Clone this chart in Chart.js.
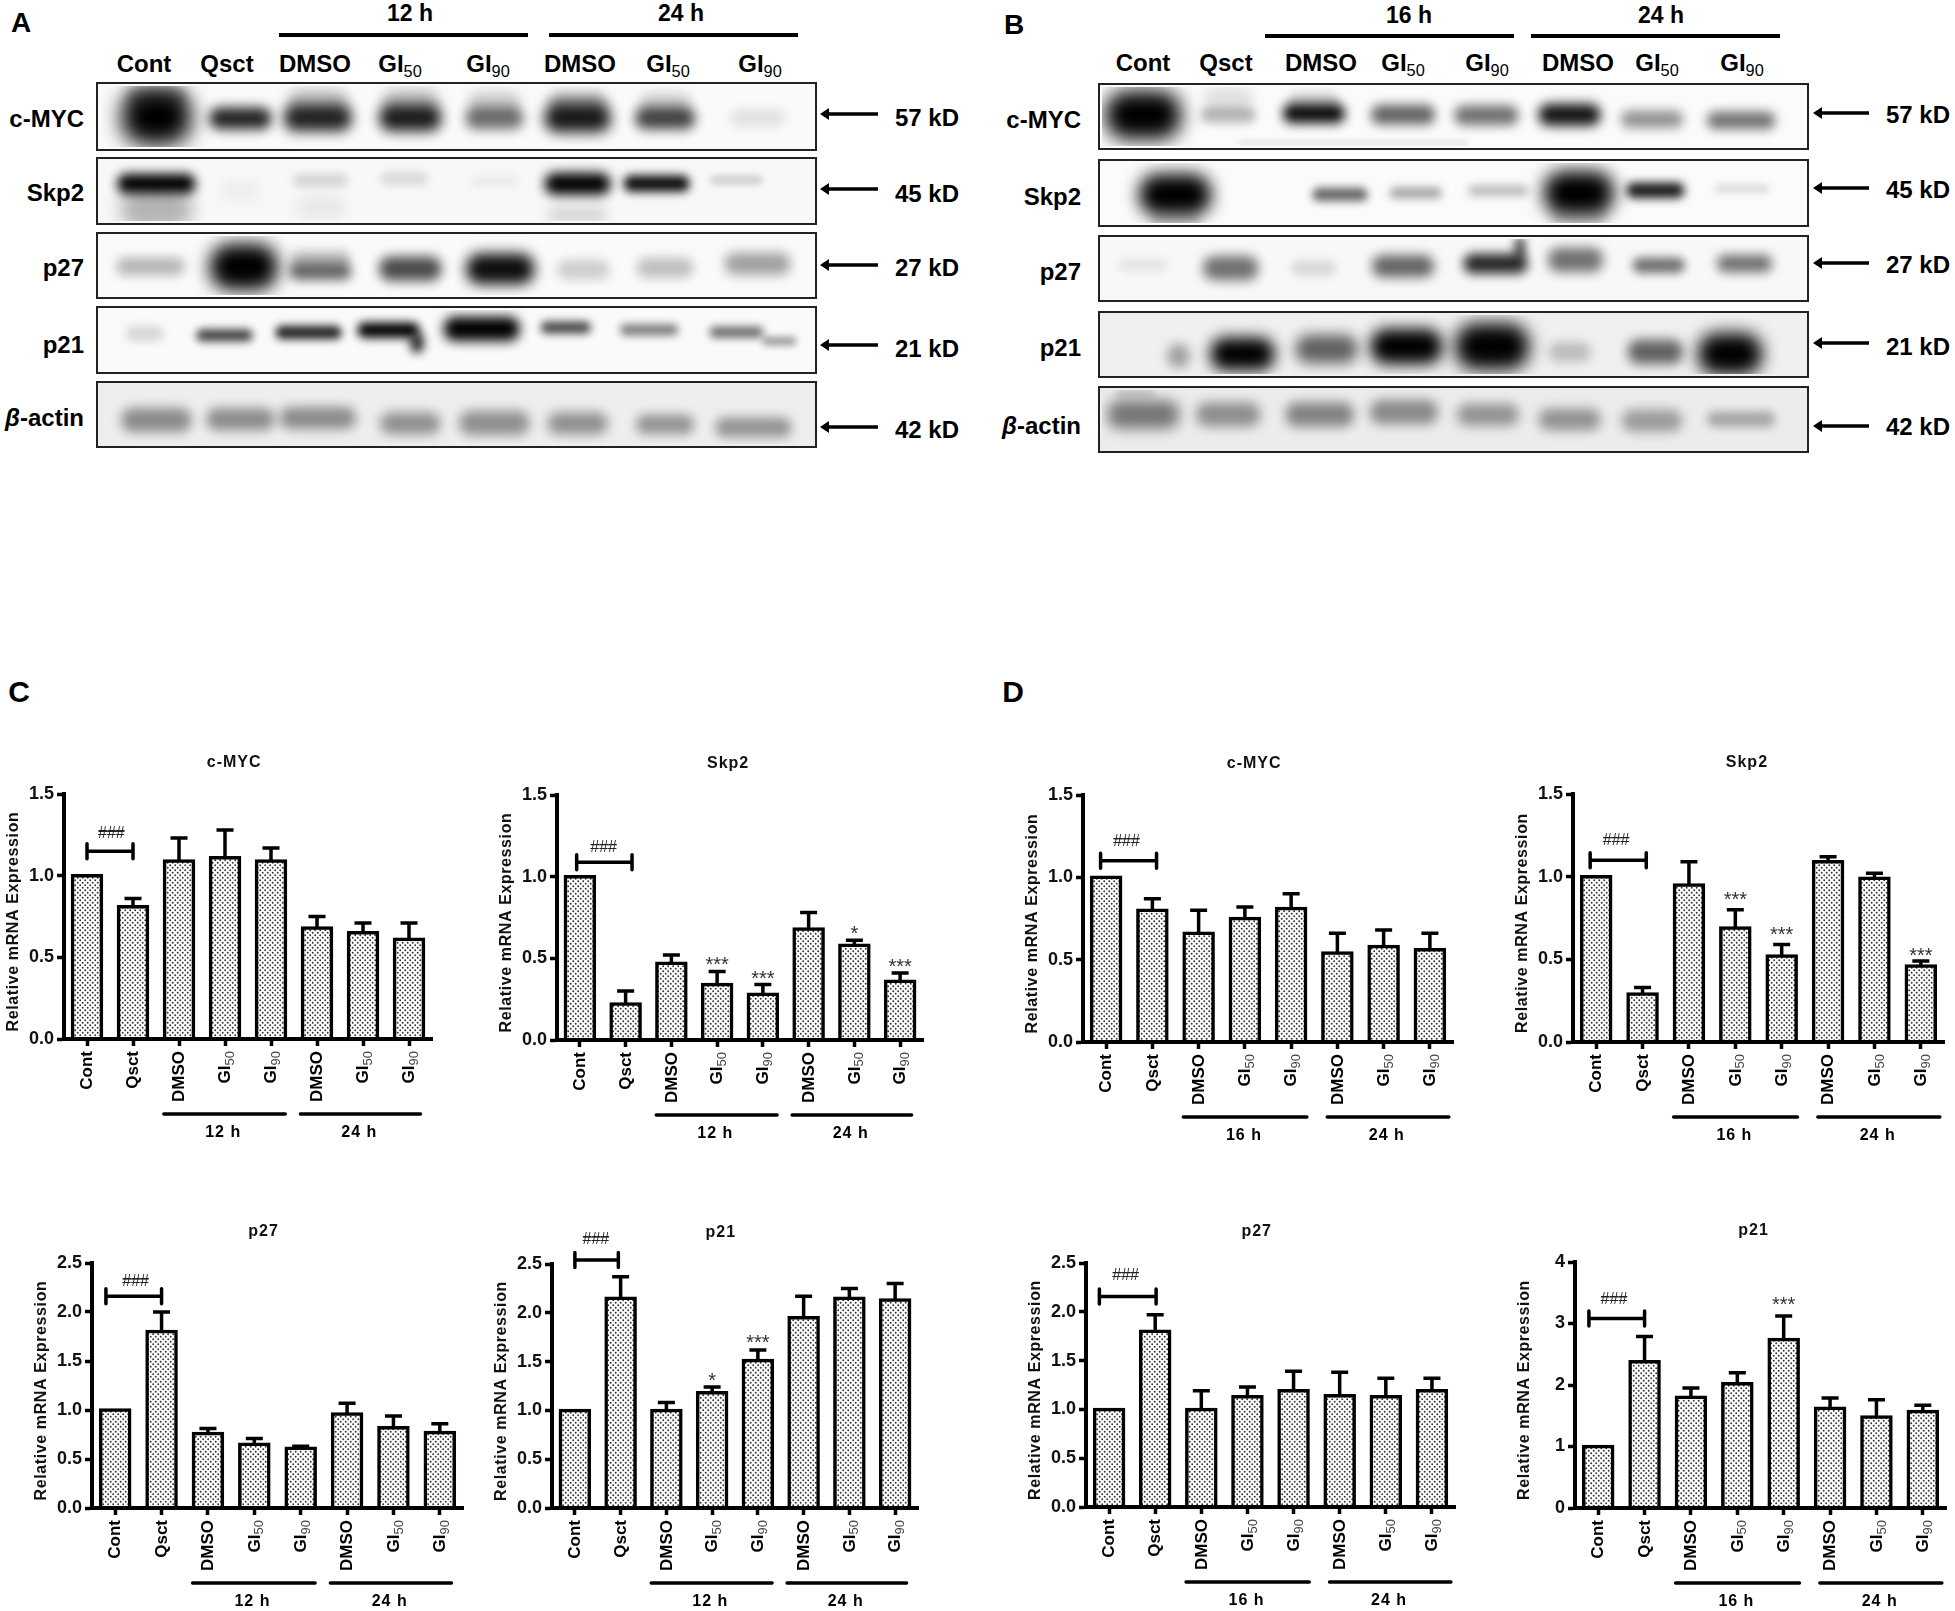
<!DOCTYPE html>
<html>
<head>
<meta charset="utf-8">
<title>Relative mRNA and protein expression</title>
<script src="https://cdn.jsdelivr.net/npm/chart.js@4"></script>
<style>
  html, body { margin: 0; padding: 0; background: #fff; }
  #page { position: relative; width: 1955px; height: 1611px; overflow: hidden; background: #fff; }
  #page canvas { position: absolute; }
  #page svg { position: absolute; left: 0; top: 0; }
  .txt { position: absolute; transform: translate(-50%, -50%); white-space: nowrap; color: #000;
         font-family: "Liberation Sans", Arial, sans-serif; font-weight: bold; }
  .txt.right { transform: translate(-100%, -50%); }
  .txt sub { font-size: 0.68em; font-weight: normal; line-height: 0; vertical-align: -0.3em; }
</style>
</head>
<body>
<div id="page"></div>
<script>
const categories = ['Cont', 'Qsct', 'DMSO', 'GI50', 'GI90', 'DMSO', 'GI50', 'GI90'];
const blotLanes = ['Cont', 'Qsct', 'DMSO', 'GI<sub>50</sub>', 'GI<sub>90</sub>', 'DMSO', 'GI<sub>50</sub>', 'GI<sub>90</sub>'];
const blotRowNames = ['c-MYC', 'Skp2', 'p27', 'p21', '<i>β</i>-actin'];
const blotSizes = ['57 kD', '45 kD', '27 kD', '21 kD', '42 kD'];
const axisDecimal = ['0.0', '0.5', '1.0', '1.5', '2.0', '2.5'];
const axisWhole = ['0', '1', '2', '3', '4'];

// bar heights and the top of each error bar
const mycC = [1.0, 0.81, 1.09, 1.11, 1.09, 0.68, 0.65, 0.61];
const mycCTop = [null, 0.86, 1.23, 1.28, 1.17, 0.75, 0.71, 0.71];
const skpC = [1.0, 0.22, 0.47, 0.34, 0.28, 0.68, 0.58, 0.36];
const skpCTop = [null, 0.30, 0.52, 0.42, 0.34, 0.78, 0.61, 0.41];
const p27C = [1.0, 1.80, 0.76, 0.65, 0.61, 0.96, 0.82, 0.77];
const p27CTop = [null, 2.0, 0.81, 0.71, 0.63, 1.07, 0.94, 0.86];
const p21C = [1.0, 2.15, 1.0, 1.18, 1.51, 1.95, 2.15, 2.13];
const p21CTop = [null, 2.37, 1.08, 1.24, 1.62, 2.17, 2.25, 2.30];
const mycD = [1.0, 0.80, 0.66, 0.75, 0.81, 0.54, 0.58, 0.56];
const mycDTop = [null, 0.87, 0.80, 0.82, 0.90, 0.66, 0.68, 0.66];
const skpD = [1.0, 0.29, 0.95, 0.69, 0.52, 1.09, 0.99, 0.46];
const skpDTop = [null, 0.33, 1.09, 0.80, 0.59, 1.12, 1.02, 0.49];
const p27D = [1.0, 1.80, 1.0, 1.13, 1.19, 1.14, 1.13, 1.19];
const p27DTop = [null, 1.97, 1.19, 1.23, 1.39, 1.38, 1.32, 1.32];
const p21D = [1.0, 2.38, 1.80, 2.02, 2.74, 1.62, 1.48, 1.57];
const p21DTop = [null, 2.79, 1.95, 2.20, 3.12, 1.79, 1.76, 1.67];

// significance marks: [category, value, text]
const starsSkpC = [[3, 0.49, '***'], [4, 0.404, '***'], [6, 0.68, '*'], [7, 0.475, '***']];
const starsP21C = [[3, 1.35, '*'], [4, 1.74, '***']];
const starsSkpD = [[3, 0.889, '***'], [4, 0.677, '***'], [7, 0.55, '***']];
const starsP21D = [[4, 3.39, '***']];

// blot bands: [lane, depth in the strip 0-1, darkness, spread x, spread y]
const blotA = [
  [[0, .52, 1, 70, 50], [0, .2, .35, 60, 20], [1, .53, .85, 62, 20], [1.92, .53, .85, 68, 24], [1.92, .28, .25, 60, 24],
   [3.02, .53, .88, 62, 24], [3.02, .28, .25, 56, 24], [4.02, .53, .55, 58, 20], [4.02, .3, .18, 52, 22],
   [5.01, .53, .9, 66, 26], [5.01, .28, .3, 58, 20], [6.05, .53, .72, 60, 20], [6.05, .3, .18, 52, 20], [7.15, .53, .1, 55, 16]],
  [[0, .38, 1, 78, 18], [0, .8, .28, 72, 36], [1, .5, .04, 40, 20], [1.95, .33, .14, 55, 12], [1.95, .78, .06, 50, 24],
   [2.95, .3, .12, 48, 12], [4.02, .34, .06, 48, 10], [5.01, .38, 1, 66, 20], [5.01, .9, .12, 60, 16], [5.95, .38, .95, 66, 15], [6.9, .32, .18, 52, 8]],
  [[-.07, .52, .28, 68, 16], [1.04, .53, 1, 68, 42], [1.95, .6, .6, 62, 16], [1.95, .38, .22, 60, 14], [3.02, .56, .7, 62, 22],
   [4.09, .56, .95, 68, 28], [5.08, .57, .18, 52, 18], [6.05, .54, .24, 56, 18], [7.15, .47, .36, 66, 20]],
  [[-.14, .4, .14, 38, 14], [.81, .43, .75, 56, 11], [1.81, .38, .88, 66, 12], [2.76, .34, 1, 62, 14], [3.1, .55, .8, 14, 18],
   [3.87, .32, 1, 76, 22], [4.87, .3, .72, 50, 11], [5.86, .33, .52, 58, 10], [6.9, .37, .58, 54, 10], [7.41, .52, .38, 34, 8]],
  [[0, .6, .42, 70, 22], [1, .58, .42, 68, 20], [1.92, .56, .42, 76, 20], [3.02, .65, .4, 60, 20], [4.02, .65, .4, 70, 22],
   [5.01, .65, .4, 60, 20], [6.05, .67, .38, 58, 18], [7.1, .72, .38, 76, 18]]
];
const blotB = [
  [[0, .48, 1, 76, 44], [1.01, .48, .28, 55, 14], [1.01, .2, .1, 50, 22], [2.03, .45, .95, 62, 18], [2.03, .22, .15, 50, 14],
   [3.09, .47, .6, 64, 18], [4.08, .48, .55, 64, 18], [5.07, .47, .92, 62, 20], [6.05, .55, .42, 62, 16], [7.11, .57, .55, 68, 16], [2.5, .95, .12, 230, 4]],
  [[.38, .53, 1, 72, 38], [.38, .93, .15, 50, 14], [2.34, .53, .6, 55, 12], [3.24, .5, .35, 52, 10], [4.22, .46, .25, 60, 10],
   [5.18, .5, 1, 70, 40], [5.18, .88, .18, 56, 16], [6.09, .46, .9, 58, 14], [7.12, .43, .12, 55, 8]],
  [[0, .45, .08, 50, 12], [1.04, .5, .55, 55, 22], [2.03, .5, .13, 45, 14], [3.09, .46, .6, 62, 20], [4.19, .42, .85, 64, 18], [4.48, .15, .6, 12, 20],
   [5.14, .36, .55, 55, 22], [6.13, .45, .55, 52, 14], [7.15, .42, .55, 55, 16]],
  [[.42, .7, .35, 22, 22], [1.18, .66, 1, 64, 30], [2.18, .58, .6, 62, 26], [3.13, .54, 1, 72, 32], [4.15, .54, 1, 74, 42],
   [5.07, .63, .22, 42, 18], [6.09, .63, .6, 55, 22], [6.98, .66, 1, 64, 38]],
  [[0, .42, .5, 72, 26], [1.01, .42, .4, 64, 22], [2.1, .42, .45, 68, 22], [3.1, .38, .42, 68, 22], [4.1, .42, .38, 62, 20],
   [5.07, .5, .38, 62, 20], [6.05, .52, .35, 60, 20], [7.11, .5, .3, 68, 14], [-.1, .05, .15, 40, 8]]
];

const FONT = '"Liberation Sans", Arial, sans-serif';
const page = document.getElementById('page');

// dotted fill used by every bar
function stipple() {
  const tile = document.createElement('canvas');
  tile.width = 5; tile.height = 5;
  const c = tile.getContext('2d');
  c.fillStyle = '#fff';
  c.fillRect(0, 0, 5, 5);
  c.fillStyle = '#333';
  [[1.2, 1.2], [3.7, 3.7]].forEach(([x, y]) => { c.beginPath(); c.arc(x, y, 0.95, 0, Math.PI * 2); c.fill(); });
  return document.createElement('canvas').getContext('2d').createPattern(tile, 'repeat');
}
const barFill = stipple();

function addCanvas(left, top, width, height) {
  const cv = document.createElement('canvas');
  cv.width = width; cv.height = height;
  cv.style.left = left + 'px'; cv.style.top = top + 'px';
  cv.style.width = width + 'px'; cv.style.height = height + 'px';
  page.appendChild(cv);
  return cv.getContext('2d');
}

function addText(html, x, y, size, right) {
  const el = document.createElement('div');
  el.className = right ? 'txt right' : 'txt';
  el.style.left = x + 'px'; el.style.top = y + 'px'; el.style.fontSize = size + 'px';
  el.innerHTML = html;
  page.appendChild(el);
}

// error bars, brackets, labels that the axes cannot draw (subscripts, group lines)
const panelMarks = {
  id: 'panelMarks',
  afterDraw(chart, args, o) {
    const { ctx, chartArea: a } = chart;
    const x = chart.scales.x, y = chart.scales.y;
    ctx.save();
    ctx.strokeStyle = '#000';
    ctx.fillStyle = '#000';

    ctx.lineWidth = 3.5;
    o.tops.forEach((top, i) => {
      if (top === null) return;
      const px = x.getPixelForValue(i), py = y.getPixelForValue(top);
      ctx.beginPath();
      ctx.moveTo(px, y.getPixelForValue(o.values[i]));
      ctx.lineTo(px, py);
      ctx.moveTo(px - 8.5, py);
      ctx.lineTo(px + 8.5, py);
      ctx.stroke();
    });

    // ### bracket
    const [bx1, bx2, bv, tx, tv] = o.bracket;
    const x1 = x.getPixelForValue(bx1), x2 = x.getPixelForValue(bx2), by = y.getPixelForValue(bv);
    ctx.lineCap = 'round';
    ctx.beginPath();
    ctx.moveTo(x1, by); ctx.lineTo(x2, by);
    ctx.moveTo(x1, by - 7.5); ctx.lineTo(x1, by + 7.5);
    ctx.moveTo(x2, by - 7.5); ctx.lineTo(x2, by + 7.5);
    ctx.stroke();

    ctx.textAlign = 'center';
    ctx.textBaseline = 'middle';
    ctx.fillStyle = '#222';
    ctx.font = '16px ' + FONT;
    const hx = x.getPixelForValue(tx), hy = y.getPixelForValue(tv);
    ctx.fillText('###', hx, hy);
    ctx.fillRect(hx - 13, hy - 3, 26, 1);

    ctx.fillStyle = '#333';
    ctx.font = '20px ' + FONT;
    ctx.textBaseline = 'alphabetic';
    o.stars.forEach(([i, v, s]) => ctx.fillText(s, x.getPixelForValue(i), y.getPixelForValue(v) + 11));

    // panel title
    ctx.fillStyle = '#111';
    ctx.textBaseline = 'middle';
    ctx.letterSpacing = '1px';
    ctx.font = 'bold 16px ' + FONT;
    ctx.fillText(o.title, x.getPixelForValue(o.titleAt), a.top - 31);

    // group lines under the labels
    ctx.lineWidth = 3.5;
    ctx.strokeStyle = '#000';
    ctx.fillStyle = '#000';
    o.groups.forEach((g, i) => {
      const [from, to, mid] = o.spans[i];
      ctx.beginPath();
      ctx.moveTo(x.getPixelForValue(from), a.bottom + 75);
      ctx.lineTo(x.getPixelForValue(to), a.bottom + 75);
      ctx.stroke();
      ctx.fillText(g, x.getPixelForValue(mid), a.bottom + 94);
    });

    // x labels, turned upright; GI labels carry a subscript
    ctx.letterSpacing = '0px';
    x.ticks.forEach((t, i) => {
      const label = categories[i];
      const m = label.match(/^(GI)(\d+)$/);
      ctx.save();
      ctx.translate(x.getPixelForTick(i) + 0.5, a.bottom + 12);
      ctx.rotate(-Math.PI / 2);
      ctx.textAlign = 'right';
      if (m) {
        ctx.fillStyle = '#444';
        ctx.font = '13px ' + FONT;
        ctx.fillText(m[2], 0, 5);
        const w = ctx.measureText(m[2]).width;
        ctx.fillStyle = '#000';
        ctx.font = 'bold 17px ' + FONT;
        ctx.fillText(m[1], -w, 0);
      } else {
        ctx.font = 'bold 17px ' + FONT;
        ctx.fillText(label, 0, 0);
      }
      ctx.restore();
    });

    // y axis title
    ctx.save();
    ctx.translate(a.left - 50, (a.top + a.bottom) / 2 + 5);
    ctx.rotate(-Math.PI / 2);
    ctx.textAlign = 'center';
    ctx.fillStyle = '#111';
    ctx.letterSpacing = '0.6px';
    ctx.font = 'bold 16px ' + FONT;
    ctx.fillText('Relative mRNA Expression', 0, 0);
    ctx.restore();
    ctx.restore();
  }
};

function barPanel(p) {
  const height = p.bottom - p.top + 154;
  const width = p.right - p.left + 70;
  const ctx = addCanvas(p.left - 60, p.top - 49, width, height);
  new Chart(ctx, {
    type: 'bar',
    data: {
      labels: categories,
      datasets: [{
        data: p.values,
        backgroundColor: barFill,
        borderColor: '#000',
        borderWidth: 3.5,
        inflateAmount: 1.75,
        barThickness: 29
      }]
    },
    options: {
      responsive: false,
      animation: false,
      events: [],
      layout: { padding: { top: 50, right: 10, left: 0, bottom: 0 } },
      plugins: {
        legend: { display: false },
        tooltip: { enabled: false },
        panelMarks: p
      },
      scales: {
        x: {
          afterFit(s) { s.height = 104; },
          ticks: { display: false, autoSkip: false },
          grid: { offset: false, drawOnChartArea: false, tickLength: 7, tickWidth: 3.5, tickColor: '#000' },
          border: { color: '#000', width: 4, z: 1 }
        },
        y: {
          min: 0,
          max: p.axis.length > 5 ? 2.5 : p.axis === axisWhole ? 4 : 1.5,
          afterFit(s) { s.width = 60; },
          ticks: {
            stepSize: p.axis === axisWhole ? 1 : 0.5,
            padding: 3,
            color: '#111',
            font: { family: FONT, size: 18, weight: 'bold' },
            callback: (v, i) => p.axis[i]
          },
          grid: { drawOnChartArea: false, tickLength: 7, tickWidth: 3.5, tickColor: '#000' },
          border: { color: '#000', width: 4, z: 1 }
        }
      }
    },
    plugins: [panelMarks]
  });
}

const h12 = ['12 h', '24 h'];
const h16 = ['16 h', '24 h'];
const axis15 = axisDecimal.slice(0, 4);
const spansC = [[1.67, 4.31, 2.96], [4.64, 7.25, 5.92]];
const spansD = [[1.67, 4.34, 2.98], [4.78, 7.41, 6.07]];

[
  { title: 'c-MYC', titleAt: 3.2, left: 64, right: 432, top: 793, bottom: 1038, axis: axis15, values: mycC, tops: mycCTop, stars: [], groups: h12, spans: spansC, bracket: [0, 1, 1.149, .53, 1.255] },
  { title: 'Skp2', titleAt: 3.24, left: 557, right: 923, top: 794, bottom: 1039, axis: axis15, values: skpC, tops: skpCTop, stars: starsSkpC, groups: h12, spans: spansC, bracket: [-.07, 1.14, 1.088, .52, 1.18] },
  { title: 'p27', titleAt: 3.2, left: 92, right: 463, top: 1262, bottom: 1507, axis: axisDecimal, values: p27C, tops: p27CTop, stars: [], groups: h12, spans: spansC, bracket: [-.2, 1, 2.16, .44, 2.31] },
  { title: 'p21', titleAt: 3.19, left: 552, right: 918, top: 1263, bottom: 1507, axis: axisDecimal, values: p21C, tops: p21CTop, stars: starsP21C, groups: h12, spans: spansC, bracket: [0, .95, 2.54, .46, 2.75] },
  { title: 'c-MYC', titleAt: 3.2, left: 1083, right: 1453, top: 794, bottom: 1041, axis: axis15, values: mycD, tops: mycDTop, stars: [], groups: h16, spans: spansD, bracket: [-.12, 1.09, 1.1, .44, 1.218] },
  { title: 'Skp2', titleAt: 3.25, left: 1573, right: 1944, top: 793, bottom: 1041, axis: axis15, values: skpD, tops: skpDTop, stars: starsSkpD, groups: h16, spans: spansD, bracket: [-.13, 1.08, 1.1, .43, 1.22] },
  { title: 'p27', titleAt: 3.2, left: 1086, right: 1455, top: 1262, bottom: 1506, axis: axisDecimal, values: p27D, tops: p27DTop, stars: [], groups: h16, spans: spansD, bracket: [-.21, 1.02, 2.156, .36, 2.374] },
  { title: 'p21', titleAt: 3.35, left: 1575, right: 1946, top: 1261, bottom: 1507, axis: axisWhole, values: p21D, tops: p21DTop, stars: starsP21D, groups: h16, spans: spansD, bracket: [-.2, 1, 3.08, .34, 3.39] }
].forEach(barPanel);

// a soft dark smear, used as the point image of one blot band
function bandSprite([, , dark, w, h]) {
  const blur = Math.min(w, h) * 0.16 + 2.5;
  const pad = Math.ceil(blur * 3);
  const bh = h * 1.1;
  const cv = document.createElement('canvas');
  cv.width = w + pad * 2; cv.height = Math.ceil(bh) + pad * 2;
  const c = cv.getContext('2d');
  c.filter = 'blur(' + blur + 'px)';
  c.fillStyle = 'rgba(0,0,0,' + dark + ')';
  c.beginPath();
  c.roundRect(pad, pad, w, bh, Math.min(w, bh) * 0.45);
  c.fill();
  return cv;
}

const blotFrame = {
  id: 'blotFrame',
  beforeDraw(chart, args, o) {
    chart.ctx.fillStyle = o.paper;
    chart.ctx.fillRect(0, 0, chart.width, chart.height);
  },
  afterDraw(chart) {
    chart.ctx.strokeStyle = '#222';
    chart.ctx.lineWidth = 2;
    chart.ctx.strokeRect(1, 1, chart.width - 2, chart.height - 2);
  }
};

function blotStrip(bands, box, xRange, paper) {
  const sprites = bands.map(bandSprite);
  new Chart(addCanvas(box[0], box[1], box[2], box[3]), {
    type: 'scatter',
    data: {
      datasets: [{
        data: bands.map(b => ({ x: b[0], y: b[1] })),
        pointStyle: c => sprites[c.dataIndex],
        pointRadius: 4,
        pointBorderWidth: 0
      }]
    },
    options: {
      responsive: false,
      animation: false,
      events: [],
      layout: { padding: 0 },
      plugins: { legend: { display: false }, tooltip: { enabled: false }, blotFrame: { paper } },
      scales: {
        x: { type: 'linear', display: false, min: xRange[0], max: xRange[1] },
        y: { type: 'linear', display: false, min: 0, max: 1, reverse: true }
      }
    },
    plugins: [blotFrame]
  });
}

const stripsA = [[96, 82, 721, 69], [96, 157, 721, 68], [96, 232, 721, 67], [96, 306, 721, 68], [96, 381, 721, 67]];
const stripsB = [[1098, 83, 711, 67], [1098, 159, 711, 68], [1098, 235, 711, 67], [1098, 311, 711, 67], [1098, 386, 711, 67]];
const paperA = ['#fafafa', '#f8f8f8', '#fafafa', '#fafafa', '#eeeeee'];
const paperB = ['#fbfbfb', '#fbfbfb', '#f8f8f8', '#f0f0f0', '#ececec'];
blotA.forEach((b, i) => blotStrip(b, stripsA[i], [-.67, 7.81], paperA[i]));
blotB.forEach((b, i) => blotStrip(b, stripsB[i], [-.49, 7.87], paperB[i]));

// text and arrows around the blots
const laneXA = [144, 227, 315, 400, 488, 580, 668, 760];
const laneXB = [1143, 1226, 1321, 1403, 1487, 1578, 1657, 1742];
blotLanes.forEach((s, i) => {
  addText(s, laneXA[i], 64, 24);
  addText(s, laneXB[i], 63, 24);
});
[119, 193, 268, 345, 418].forEach((y, i) => addText(blotRowNames[i], 84, y, 24, true));
[120, 197, 272, 348, 426].forEach((y, i) => addText(blotRowNames[i], 1081, y, 24, true));
[118, 194, 268, 349, 430].forEach((y, i) => addText(blotSizes[i], 927, y, 24));
[115, 190, 265, 347, 427].forEach((y, i) => addText(blotSizes[i], 1918, y, 24));

addText('12 h', 410, 13, 23);
addText('24 h', 681, 13, 23);
addText('16 h', 1409, 15, 23);
addText('24 h', 1661, 15, 23);
addText('A', 21, 23, 28);
addText('B', 1014, 25, 28);
addText('C', 19, 692, 30);
addText('D', 1013, 692, 30);

const NS = 'http://www.w3.org/2000/svg';
const svg = document.createElementNS(NS, 'svg');
svg.setAttribute('width', 1955);
svg.setAttribute('height', 1611);
function line(x1, y1, x2, y2, w) {
  const l = document.createElementNS(NS, 'line');
  [['x1', x1], ['y1', y1], ['x2', x2], ['y2', y2], ['stroke', '#000'], ['stroke-width', w]].forEach(([k, v]) => l.setAttribute(k, v));
  svg.appendChild(l);
}
function arrow(tip, tail, y) {
  line(tip + 6, y, tail, y, 3.5);
  const head = document.createElementNS(NS, 'path');
  head.setAttribute('d', `M${tip} ${y} L${tip + 9} ${y - 6} L${tip + 9} ${y + 6} Z`);
  svg.appendChild(head);
}
[[279, 528, 35], [549, 798, 35], [1265, 1514, 36], [1531, 1780, 36]].forEach(([a, b, y]) => line(a, y, b, y, 4));
[114, 189, 265, 345, 427].forEach(y => arrow(820, 878, y));
[113, 188, 263, 343, 426].forEach(y => arrow(1813, 1869, y));
page.appendChild(svg);
</script>
</body>
</html>
